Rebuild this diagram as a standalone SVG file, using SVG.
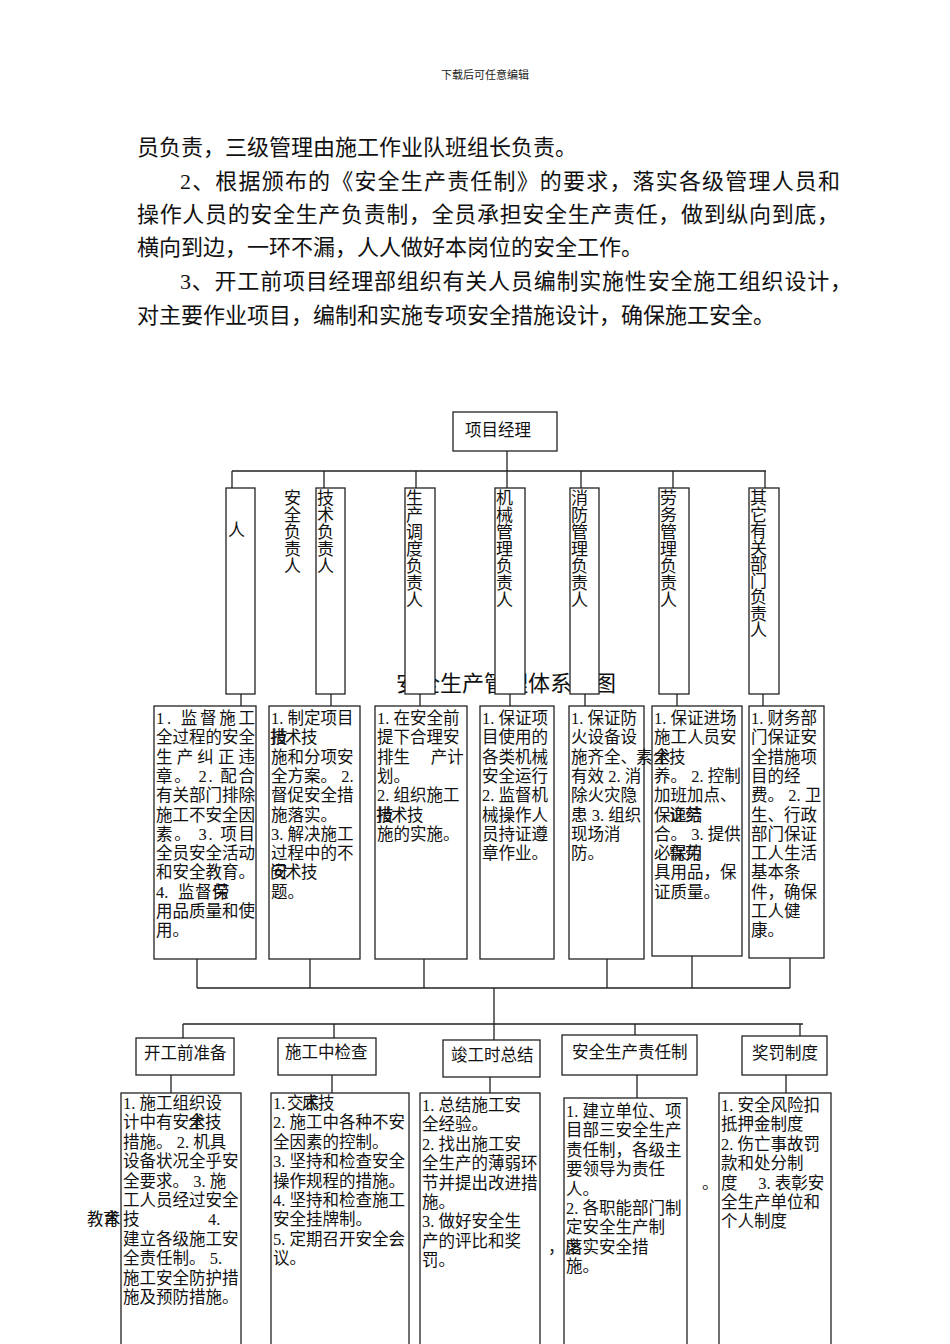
<svg xmlns="http://www.w3.org/2000/svg" width="950" height="1344" viewBox="0 0 950 1344">
<style>
.p{font-family:"Liberation Serif","Noto Sans CJK SC",serif;font-size:22px;fill:#111}
.t{font-family:"Liberation Serif","Noto Sans CJK SC",serif;font-size:16.5px;fill:#111}
.v{font-family:"Liberation Serif","Noto Sans CJK SC",serif;font-size:17px;fill:#111}
.h{font-family:"Liberation Serif","Noto Sans CJK SC",serif;font-size:11px;fill:#222}
.ti{font-family:"Liberation Serif","Noto Sans CJK SC",serif;font-size:22px;fill:#111}
.b{fill:#fff;stroke:#222;stroke-width:1.3}
.c{fill:none;stroke:#222;stroke-width:1.3}
</style>
<rect width="950" height="1344" fill="#fff"/>
<text class="h" x="485" y="79" text-anchor="middle">下载后可任意编辑</text>
<g id="paragraph">
<text class="p" x="137" y="155" textLength="440" lengthAdjust="spacing">员负责，三级管理由施工作业队班组长负责。</text>
<text class="p" x="180" y="189" textLength="660" lengthAdjust="spacing">2、根据颁布的《安全生产责任制》的要求，落实各级管理人员和</text>
<text class="p" x="137" y="222" textLength="702" lengthAdjust="spacing">操作人员的安全生产负责制，全员承担安全生产责任，做到纵向到底，</text>
<text class="p" x="137" y="255">横向到边，一环不漏，人人做好本岗位的安全工作。</text>
<text class="p" x="180" y="289" textLength="672" lengthAdjust="spacing">3、开工前项目经理部组织有关人员编制实施性安全施工组织设计，</text>
<text class="p" x="137" y="323">对主要作业项目，编制和实施专项安全措施设计，确保施工安全。</text>
</g>
<text class="ti" x="396" y="691">安全生产管理体系<tspan x="594">图</tspan></text>
<g id="connectors">
<path class="c" d="M507 451V488M232 471H766M232 471V488M324 471V488M416 471V488M581 471V488M673 471V488M765 471V488"/>
<path class="c" d="M241 694V706M331 694V706M420 694V706M510 694V706M585 694V706M677 694V706M763 694V706"/>
<path class="c" d="M197 959V988M310 959V988M424 959V988M607 956V988M692 956V988M790 958V988M197 988H790M494 988V1040M183 1024H803M183 1024V1038M334 1024V1038M635 1024V1035M800 1024V1036"/>
<path class="c" d="M171 1075V1093M332 1075V1093M490 1077V1093M637 1075V1098M786 1075V1093"/>
</g>
<g id="pm"><rect class="b" x="453" y="412" width="104" height="39"/><text class="t" x="465" y="436">项目经理</text></g>
<g id="r1-1"><rect class="b" x="226" y="488" width="29" height="206"/><text class="v" x="228" y="536">人</text></g>
<g id="r1-label"><text class="v"><tspan x="284" y="504">安</tspan><tspan x="284" y="521">全</tspan><tspan x="284" y="538">负</tspan><tspan x="284" y="555">责</tspan><tspan x="284" y="572">人</tspan></text></g>
<g id="r1-2"><rect class="b" x="316" y="488" width="29" height="206"/><text class="v"><tspan x="317" y="504">技</tspan><tspan x="317" y="521">术</tspan><tspan x="317" y="538">负</tspan><tspan x="317" y="555">责</tspan><tspan x="317" y="572">人</tspan></text></g>
<g id="r1-3"><rect class="b" x="405" y="488" width="30" height="206"/><text class="v"><tspan x="406" y="504">生</tspan><tspan x="406" y="521">产</tspan><tspan x="406" y="538">调</tspan><tspan x="406" y="555">度</tspan><tspan x="406" y="572">负</tspan><tspan x="406" y="589">责</tspan><tspan x="406" y="606">人</tspan></text></g>
<g id="r1-4"><rect class="b" x="495" y="488" width="30" height="206"/><text class="v"><tspan x="496" y="504">机</tspan><tspan x="496" y="521">械</tspan><tspan x="496" y="538">管</tspan><tspan x="496" y="555">理</tspan><tspan x="496" y="572">负</tspan><tspan x="496" y="589">责</tspan><tspan x="496" y="606">人</tspan></text></g>
<g id="r1-5"><rect class="b" x="570" y="488" width="29" height="206"/><text class="v"><tspan x="571" y="504">消</tspan><tspan x="571" y="521">防</tspan><tspan x="571" y="538">管</tspan><tspan x="571" y="555">理</tspan><tspan x="571" y="572">负</tspan><tspan x="571" y="589">责</tspan><tspan x="571" y="606">人</tspan></text></g>
<g id="r1-6"><rect class="b" x="659" y="488" width="30" height="206"/><text class="v"><tspan x="660" y="504">劳</tspan><tspan x="660" y="521">务</tspan><tspan x="660" y="538">管</tspan><tspan x="660" y="555">理</tspan><tspan x="660" y="572">负</tspan><tspan x="660" y="589">责</tspan><tspan x="660" y="606">人</tspan></text></g>
<g id="r1-7"><rect class="b" x="749" y="488" width="30" height="206"/><text class="v"><tspan x="750" y="504">其</tspan><tspan x="750" y="520.5">它</tspan><tspan x="750" y="537">有</tspan><tspan x="750" y="553.5">关</tspan><tspan x="750" y="570">部</tspan><tspan x="750" y="586.5">门</tspan><tspan x="750" y="603">负</tspan><tspan x="750" y="619.5">责</tspan><tspan x="750" y="636">人</tspan></text></g>

<g id="r2-A"><rect class="b" x="154" y="706" width="102" height="253"/>
<text class="t" x="156" y="724" textLength="99" lengthAdjust="spacing">1. 监督施工</text>
<text class="t" x="156" y="743.3">全过程的安全</text>
<text class="t" x="156" y="762.6" textLength="99" lengthAdjust="spacing">生产纠正违</text>
<text class="t" x="156" y="781.9" textLength="99" lengthAdjust="spacing">章。 2. 配合</text>
<text class="t" x="156" y="801.2">有关部门排除</text>
<text class="t" x="156" y="820.5">施工不安全因</text>
<text class="t" x="156" y="839.8" textLength="99" lengthAdjust="spacing">素。 3.  项目</text>
<text class="t" x="156" y="859.1">全员安全活动</text>
<text class="t" x="156" y="878.4">和安全教育。</text>
<text class="t" y="897.7"><tspan x="156">4.</tspan><tspan x="178">监</tspan><tspan x="195">督</tspan><tspan x="212">保</tspan><tspan x="213">劳</tspan></text>
<text class="t" x="156" y="917">用品质量和使</text>
<text class="t" x="156" y="936.3">用。</text>
</g>
<g id="r2-B"><rect class="b" x="269" y="706" width="91" height="253"/>
<text class="t" x="271" y="724">1. 制定项目</text>
<text class="t" y="743.3"><tspan x="270">措</tspan><tspan x="271">技</tspan><tspan x="285">术</tspan><tspan x="301">技</tspan></text>
<text class="t" x="271" y="762.6">施和分项安</text>
<text class="t" x="271" y="781.9">全方案。 2.</text>
<text class="t" x="271" y="801.2">督促安全措</text>
<text class="t" x="271" y="820.5">施落实。</text>
<text class="t" x="271" y="839.8">3. 解决施工</text>
<text class="t" x="271" y="859.1">过程中的不</text>
<text class="t" y="878.4"><tspan x="270">问</tspan><tspan x="271">安</tspan><tspan x="285">术</tspan><tspan x="301">技</tspan></text>
<text class="t" x="271" y="897.7">题。</text>
</g>
<g id="r2-C"><rect class="b" x="375" y="706" width="92" height="253"/>
<text class="t" x="377" y="724">1. 在安全前</text>
<text class="t" x="377" y="743.3">提下合理安</text>
<text class="t" x="377" y="762.6">排生　 产计</text>
<text class="t" x="377" y="781.9">划。</text>
<text class="t" x="377" y="801.2">2. 组织施工</text>
<text class="t" y="820.5"><tspan x="376">措</tspan><tspan x="377">技</tspan><tspan x="391">术</tspan><tspan x="407">技</tspan></text>
<text class="t" x="377" y="839.8">施的实施。</text>
</g>
<g id="r2-D"><rect class="b" x="480" y="706" width="74" height="253"/>
<text class="t" x="482" y="724">1. 保证项</text>
<text class="t" x="482" y="743.3">目使用的</text>
<text class="t" x="482" y="762.6">各类机械</text>
<text class="t" x="482" y="781.9">安全运行</text>
<text class="t" x="482" y="801.2">2. 监督机</text>
<text class="t" x="482" y="820.5">械操作人</text>
<text class="t" x="482" y="839.8">员持证遵</text>
<text class="t" x="482" y="859.1">章作业。</text>
</g>
<g id="r2-E"><rect class="b" x="569" y="706" width="75" height="253"/>
<text class="t" x="571" y="724">1. 保证防</text>
<text class="t" x="571" y="743.3">火设备设</text>
<text class="t" x="571" y="762.6">施齐全、</text>
<text class="t" x="571" y="781.9">有效 2. 消</text>
<text class="t" x="571" y="801.2">除火灾隐</text>
<text class="t" x="571" y="820.5">患 3. 组织</text>
<text class="t" x="571" y="839.8">现场消</text>
<text class="t" x="571" y="859.1">防。</text>
</g>
<g id="r2-F"><rect class="b" x="652" y="706" width="90" height="250"/>
<text class="t" x="654" y="724">1. 保证进场</text>
<text class="t" x="654" y="743.3">施工人员安</text>
<text class="t" y="762.6"><tspan x="636">素</tspan><tspan x="653">全</tspan><tspan x="654">术</tspan><tspan x="669">技</tspan></text>
<text class="t" x="654" y="781.9">养。 2. 控制</text>
<text class="t" x="654" y="801.2">加班加点、</text>
<text class="t" y="820.5"><tspan x="654">保</tspan><tspan x="669">证</tspan><tspan x="670">逸</tspan><tspan x="685">劳</tspan><tspan x="686">结</tspan></text>
<text class="t" x="654" y="839.8">合。 3. 提供</text>
<text class="t" y="859.1"><tspan x="654">必</tspan><tspan x="669">需</tspan><tspan x="670">保</tspan><tspan x="685">劳</tspan><tspan x="686">用</tspan></text>
<text class="t" x="654" y="878.4">具用品，保</text>
<text class="t" x="654" y="897.7">证质量。</text>
</g>
<g id="r2-G"><rect class="b" x="749" y="706" width="75" height="252"/>
<text class="t" x="751" y="724">1. 财务部</text>
<text class="t" x="751" y="743.3">门保证安</text>
<text class="t" x="751" y="762.6">全措施项</text>
<text class="t" x="751" y="781.9">目的经</text>
<text class="t" x="751" y="801.2">费。 2. 卫</text>
<text class="t" x="751" y="820.5">生、行政</text>
<text class="t" x="751" y="839.8">部门保证</text>
<text class="t" x="751" y="859.1">工人生活</text>
<text class="t" x="751" y="878.4">基本条</text>
<text class="t" x="751" y="897.7">件，确保</text>
<text class="t" x="751" y="917">工人健</text>
<text class="t" x="751" y="936.3">康。</text>
</g>

<g id="h1"><rect class="b" x="136" y="1038" width="98" height="37"/><text class="t" x="144" y="1059">开工前准备</text></g>
<g id="h2"><rect class="b" x="278" y="1038" width="98" height="37"/><text class="t" x="285" y="1058">施工中检查</text></g>
<g id="h3"><rect class="b" x="443" y="1040" width="97" height="37"/><text class="t" x="451" y="1061">竣工时总结</text></g>
<g id="h4"><rect class="b" x="562" y="1035" width="135" height="40"/><text class="t" x="572" y="1058">安全生产责任制</text></g>
<g id="h5"><rect class="b" x="742" y="1036" width="85" height="39"/><text class="t" x="752" y="1059">奖罚制度</text></g>

<g id="b1"><rect class="b" x="121" y="1093" width="120" height="252"/>
<text class="t" x="123" y="1109">1. 施工组织设</text>
<text class="t" y="1128.4"><tspan x="123">计中有安</tspan><tspan x="188">全</tspan><tspan x="189">术</tspan><tspan x="205">技</tspan></text>
<text class="t" x="123" y="1147.8">措施。 2. 机具</text>
<text class="t" x="123" y="1167.2">设备状况全乎安</text>
<text class="t" x="123" y="1186.6">全要求。 3. 施</text>
<text class="t" x="123" y="1206">工人员经过安全</text>
<text class="t" y="1225.4"><tspan x="87">教</tspan><tspan x="103">育</tspan><tspan x="104">术</tspan><tspan x="123">技</tspan><tspan x="208">4.</tspan></text>
<text class="t" x="123" y="1244.8">建立各级施工安</text>
<text class="t" x="123" y="1264.2">全责任制。 5.</text>
<text class="t" x="123" y="1283.6">施工安全防护措</text>
<text class="t" x="123" y="1303">施及预防措施。</text>
</g>
<g id="b2"><rect class="b" x="271" y="1093" width="138" height="252"/>
<text class="t" y="1109"><tspan x="273">1.</tspan><tspan x="287">交</tspan><tspan x="302">底</tspan><tspan x="303">术</tspan><tspan x="318">技</tspan></text>
<text class="t" x="273" y="1128.4">2. 施工中各种不安</text>
<text class="t" x="273" y="1147.8">全因素的控制。</text>
<text class="t" x="273" y="1167.2">3. 坚持和检查安全</text>
<text class="t" x="273" y="1186.6">操作规程的措施。</text>
<text class="t" x="273" y="1206">4. 坚持和检查施工</text>
<text class="t" x="273" y="1225.4">安全挂牌制。</text>
<text class="t" x="273" y="1244.8">5. 定期召开安全会</text>
<text class="t" x="273" y="1264.2">议。</text>
</g>
<g id="b3"><rect class="b" x="420" y="1093" width="120" height="252"/>
<text class="t" x="422" y="1111">1. 总结施工安</text>
<text class="t" x="422" y="1130.4">全经验。</text>
<text class="t" x="422" y="1149.8">2. 找出施工安</text>
<text class="t" x="422" y="1169.2">全生产的薄弱环</text>
<text class="t" x="422" y="1188.6">节并提出改进措</text>
<text class="t" x="422" y="1208">施。</text>
<text class="t" x="422" y="1227.4">3. 做好安全生</text>
<text class="t" x="422" y="1246.8">产的评比和奖</text>
<text class="t" x="422" y="1266.2">罚。</text>
</g>
<g id="b4"><rect class="b" x="564" y="1098" width="123" height="247"/>
<text class="t" x="566" y="1117">1. 建立单位、项</text>
<text class="t" x="566" y="1136.4">目部三安全生产</text>
<text class="t" x="566" y="1155.8">责任制，各级主</text>
<text class="t" x="566" y="1175.2">要领导为责任</text>
<text class="t" x="566" y="1194.6">人。</text>
<text class="t" x="566" y="1214">2. 各职能部门制</text>
<text class="t" x="566" y="1233.4">定安全生产制</text>
<text class="t" y="1252.8"><tspan x="548">，</tspan><tspan x="565">度</tspan><tspan x="566">落</tspan><tspan x="582.5">实安全措</tspan></text>
<text class="t" x="566" y="1272.2">施。</text>
</g>
<g id="b5"><rect class="b" x="719" y="1093" width="112" height="252"/>
<text class="t" x="721" y="1111">1. 安全风险扣</text>
<text class="t" x="721" y="1130.4">抵押金制度</text>
<text class="t" x="721" y="1149.8">2. 伤亡事故罚</text>
<text class="t" x="721" y="1169.2">款和处分制</text>
<text class="t" y="1188.6"><tspan x="702">。</tspan><tspan x="721">度　 3. 表彰安</tspan></text>
<text class="t" x="721" y="1208">全生产单位和</text>
<text class="t" x="721" y="1227.4">个人制度</text>
</g>
</svg>
